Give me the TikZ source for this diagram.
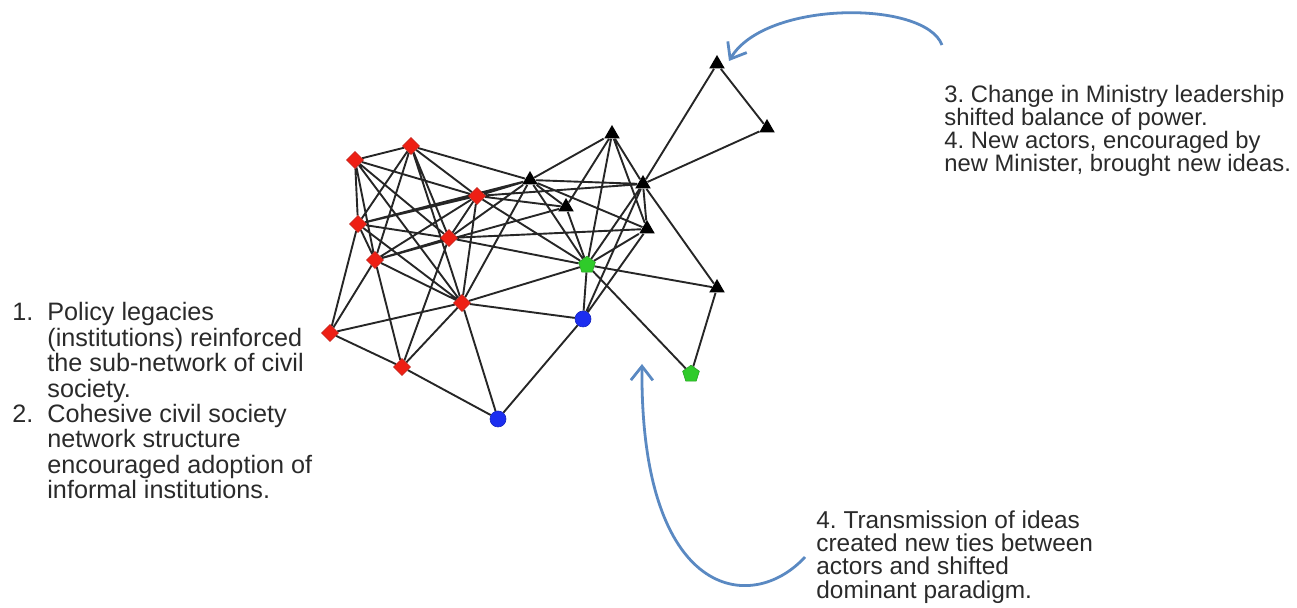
\documentclass[tikz,border=0pt]{standalone}
\usepackage{fontspec}
\setmainfont{Liberation Sans}
\usetikzlibrary{shapes.geometric,arrows.meta}
\pgfdeclarelayer{background}
\pgfsetlayers{background,main}
\definecolor{actorred}{HTML}{EE1F14}
\definecolor{actorblue}{HTML}{1C2EF0}
\definecolor{actorgreen}{HTML}{2FCB2A}
\definecolor{notearrow}{HTML}{5A89C2}
\definecolor{notetext}{HTML}{2A2A2A}
\frenchspacing
\begin{document}
\begin{tikzpicture}[x=0.5pt,y=-0.5pt,
  civil/.style={diamond,fill=actorred,draw=actorred!80!black,line width=0.3pt,inner sep=0pt,minimum size=8.6pt},
  ministry/.style={regular polygon,regular polygon sides=3,fill=black,inner sep=0pt,minimum size=9pt},
  bridge/.style={circle,fill=actorblue,draw=actorblue!80!black,line width=0.3pt,inner sep=0pt,minimum size=8pt},
  newidea/.style={regular polygon,regular polygon sides=5,fill=actorgreen,draw=actorgreen!80!black,line width=0.3pt,inner sep=0pt,minimum size=8.8pt},
  tie/.style={draw=black!85,line width=0.95pt},
  note/.style={inner sep=0pt,align=left,text=notetext},
  curvearrow/.style={draw=notearrow,line width=1.4pt,-{Straight Barb[length=7pt,width=11pt,line width=1.4pt]}}
]
\useasboundingbox (0,0) rectangle (1297,608);

% civil society actors
\node[civil] (R1) at (355,160) {};
\node[civil] (R2) at (411,146) {};
\node[civil] (R3) at (477,196) {};
\node[civil] (R4) at (358,224) {};
\node[civil] (R5) at (449,238) {};
\node[civil] (R6) at (375,260) {};
\node[civil] (R7) at (462,303) {};
\node[civil] (R8) at (330,333) {};
\node[civil] (R9) at (402,367) {};
% bridging actors
\node[bridge] (B1) at (583,319) {};
\node[bridge] (B2) at (498,419) {};
% new actors
\node[newidea] (G1) at (587,265) {};
\node[newidea] (G2) at (691,374) {};
% ministry actors
\node[ministry] (T1) at (530,180) {};
\node[ministry] (T2) at (612,134) {};
\node[ministry] (T3) at (643,184) {};
\node[ministry] (T4) at (566,207) {};
\node[ministry] (T5) at (647,229) {};
\node[ministry] (T6) at (717,64) {};
\node[ministry] (T7) at (767,128) {};
\node[ministry] (T8) at (717,288) {};

% ties
\begin{pgfonlayer}{background}
\path[tie]
  (R1)--(R2) (R1)--(R3) (R1)--(R4) (R1)--(R5) (R1)--(R6) (R1)--(R7)
  (R2)--(R3) (R2)--(R4) (R2)--(R5) (R2)--(R6) (R2)--(T1) (R2)--(R7)
  (R3)--(R4) (R3)--(R5) (R3)--(R6) (R3)--(R7) (R3)--(T1) (R3)--(T3) (R3)--(T4) (R3)--(G1)
  (R4)--(R5) (R4)--(R6) (R4)--(R7) (R4)--(R8) (R4)--(T1)
  (R5)--(R6) (R5)--(R9) (R5)--(G1) (R5)--(T1) (R5)--(T5)
  (R6)--(R7) (R6)--(R8) (R6)--(R9) (R6)--(T4)
  (R7)--(R8) (R7)--(R9) (R7)--(B1) (R7)--(B2) (R7)--(G1) (R7)--(T1)
  (R8)--(R9) (R9)--(B2) (B2)--(B1)
  (B1)--(G1) (B1)--(T3) (B1)--(T5)
  (G1)--(T1) (G1)--(T2) (G1)--(T3) (G1)--(T4) (G1)--(T5) (G1)--(T8) (G1)--(G2)
  (G2)--(T8) (T8)--(T3)
  (T3)--(T1) (T3)--(T2) (T3)--(T5) (T3)--(T6) (T3)--(T7) (T6)--(T7)
  (T2)--(T1) (T2)--(T4) (T2)--(T5) (T1)--(T5) (T1)--(T4);
\end{pgfonlayer}

% annotations
\node[note,anchor=north west,font={\fontsize{12.6}{12}\selectfont}] (leftnote) at (12,302) {%
  \begin{tabular}{@{}l@{}l@{}}
  \makebox[17.5pt][l]{1.} & Policy legacies\\
   & (institutions) reinforced\\
   & the sub-network of civil\\
   & society.\\
  \makebox[17.5pt][l]{2.} & Cohesive civil society\\
   & network structure\\
   & encouraged adoption of\\
   & informal institutions.
  \end{tabular}};

\node[note,anchor=north west,font={\fontsize{11.9}{11.4}\selectfont}] (topnote) at (944,85) {%
  3. Change in Ministry leadership\\
  shifted balance of power.\\
  4. New actors, encouraged by\\
  new Minister, brought new ideas.};

\node[note,anchor=north west,font={\fontsize{12.2}{11.7}\selectfont}] (bottomnote) at (816,510) {%
  4. Transmission of ideas\\
  created new ties between\\
  actors and shifted\\
  dominant paradigm.};

\coordinate (toptip) at (729,61);
\coordinate (bottomtip) at (642,364);
\draw[curvearrow] (topnote.north west) ++(-2,-40) .. controls (925,0) and (765,0) .. (toptip);
\draw[curvearrow] (bottomnote.north west) ++(-11,47) .. controls (752,615) and (640,600) .. (bottomtip);
\end{tikzpicture}
\end{document}
